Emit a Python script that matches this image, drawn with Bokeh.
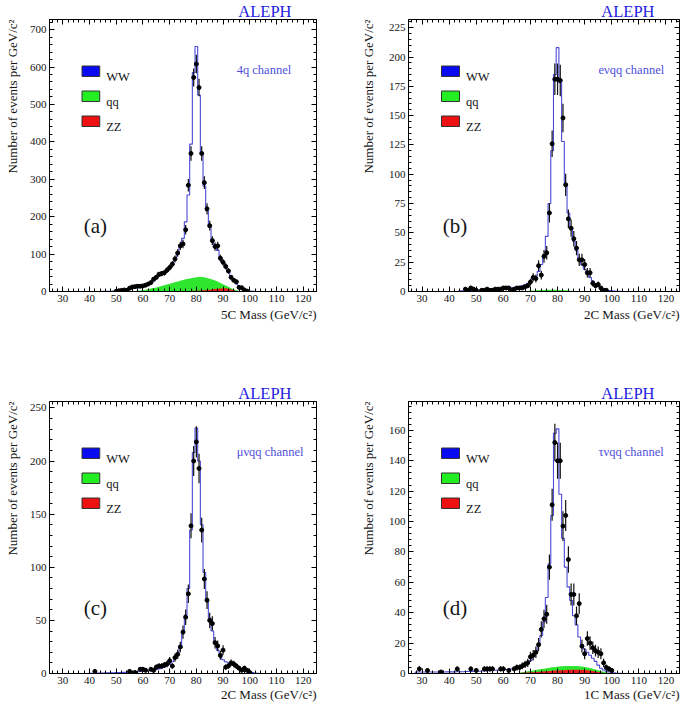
import numpy as np
from bokeh.plotting import figure
from bokeh.layouts import gridplot
from bokeh.models import Range1d, FixedTicker, LinearAxis, Label, Title
from bokeh.embed import file_html
from bokeh.resources import INLINE

SERIF = "Liberation Serif"
X_MIN, X_MAX = 25, 125
FRAME_W, FRAME_H = 271, 272

x_ticks = [30, 40, 50, 60, 70, 80, 90, 100, 110, 120]
x_minor = [m for m in range(26, 125, 2)]

# ---------------- panel (a) 4q channel, bins centred on integer masses ----------------
a_start = 45
a_mc = [0.3, 0.4, 0.5, 0.7, 0.9, 1.2, 1.6, 2.2, 3, 4,
        5.5, 7.5, 9.5, 11, 12.5, 14, 16, 19, 23, 28,
        34, 41, 46, 51, 56, 63, 72, 85, 102, 125,
        142, 186, 258, 394, 585, 655, 525, 372, 282, 216,
        172, 138, 124, 110, 92, 76, 64, 52, 40, 30,
        20, 12, 7, 4, 2, 1, 0.5, 0.3, 0.2, 0.1]
a_data = [0, 0, 0, 0, 0, 1, 2, 3, 4, 3,
          9, 12, 13, 14, 14, 15, 17, 20, 24, 33,
          38, 46, 48, 50, 57, 64, 73, 87, 103, 122,
          127, 165, 284, 369, 572, 608, 545, 369, 291, 221,
          176, 136, 120, 122, 89, 78, 67, 55, 38, 30,
          26, 11, 10, 4, 1, 0, 0, 0, 0, 0]
a_qq = [0, 0, 0, 0, 0, 0, 0, 0, 0, 0,
        0.5, 1, 1.5, 2, 3, 4, 5, 6.5, 8, 9.5,
        11, 13, 15, 17, 19, 21, 23, 25, 27, 29,
        31, 32.5, 34, 35.5, 37, 38, 38.5, 38.5, 38, 36,
        34, 32, 29.5, 26.5, 23, 19.5, 16, 12.5, 9, 6,
        3.5, 1.5, 0.5, 0, 0, 0, 0, 0, 0, 0]
a_zz = [0, 0, 0, 0, 0, 0, 0, 0, 0, 0,
        0.3, 0.4, 0.5, 0.5, 0.6, 0.6, 0.7, 0.7, 0.8, 0.8,
        0.9, 0.9, 1, 1, 1, 1.1, 1.1, 1.2, 1.2, 1.3,
        1.3, 1.4, 1.5, 1.6, 1.8, 2, 2.3, 2.7, 3.2, 3.8,
        4.6, 5.5, 6.5, 7.5, 8.3, 8.8, 8.6, 7.5, 5.5, 3.3,
        1.5, 0.5, 0.2, 0, 0, 0, 0, 0, 0, 0]

# ---------------- panel (b) e nu qq channel ----------------
b_start = 44
b_mc = [0.5, 0.6, 0.7, 0.8, 0.9, 1, 1.1, 1.2, 1.3, 1.4,
        1.5, 1.6, 1.7, 1.8, 2, 2.2, 2.4, 2.6, 2.8, 3.1,
        3.4, 3.8, 4.3, 5, 5.8, 7, 8.5, 10.5, 13, 17,
        23, 31, 47, 75, 120, 185, 208, 178, 128, 92,
        67, 53, 43, 35, 28, 23, 19, 15, 12, 9,
        6.5, 4.5, 3, 2, 1.3, 0.8, 0.5, 0.3, 0.2, 0.1]
b_data = [0, 0, 2, 1, 3, 2, 1, 0, 1, 1,
          2, 1, 1, 2, 2, 2, 3, 3, 3, 1,
          2, 3, 3, 3, 4, 5, 8, 12, 11, 22,
          14, 30, 33, 67, 126, 181, 181, 180, 148, 91,
          62, 54, 45, 37, 27, 27, 23, 16, 16, 7,
          5, 6, 3, 1, 1, 0, 0, 0, 0, 0]
b_qq = [0, 0, 0, 0, 0, 0, 0, 0, 0, 0,
        0, 0, 0, 0, 0, 0, 0, 0, 0, 0,
        0, 0, 0, 0, 0.2, 0.4, 0.6, 0.8, 1, 1.1,
        1.2, 1.3, 1.4, 1.4, 1.4, 1.4, 1.3, 1.2, 1.1, 1,
        0.8, 0.6, 0.4, 0.2, 0, 0, 0, 0, 0, 0,
        0, 0, 0, 0, 0, 0, 0, 0, 0, 0]
b_zz = [0, 0, 0, 0, 0, 0, 0, 0, 0, 0,
        0, 0, 0, 0, 0, 0, 0, 0, 0, 0,
        0, 0, 0, 0, 0, 0, 0.2, 0.2, 0.2, 0.2,
        0.3, 0.3, 0.3, 0.3, 0.3, 0.3, 0.3, 0.3, 0.3, 0.3,
        0.3, 0.3, 0.3, 0.3, 0.3, 0.3, 0.3, 0.3, 0.3, 0.3,
        0.2, 0.2, 0.1, 0, 0, 0, 0, 0, 0, 0]

# ---------------- panel (c) mu nu qq channel ----------------
c_start = 40
c_mc = [0.3, 0.3, 0.35, 0.4, 0.45, 0.5, 0.55, 0.6, 0.65, 0.7,
        0.8, 0.9, 1, 1.1, 1.2, 1.3, 1.4, 1.5, 1.7, 1.9,
        2.1, 2.3, 2.6, 2.9, 3.3, 3.8, 4.4, 5.1, 6, 7.2,
        8.8, 11, 14, 19, 26, 38, 55, 80, 135, 208,
        231, 200, 140, 95, 70, 52, 40, 30, 22, 17,
        13, 11, 10, 9, 8, 6, 4.5, 3.3, 2.4, 1.7,
        1.2, 0.8, 0.5, 0.3]
c_data = [0, 0, 2, 0, 0, 0, 0, 0, 0, 0,
          0, 0, 0, 0, 0, 2, 0, 1, 0, 4,
          4, 3, 0, 4, 3, 6, 7, 7, 8, 9,
          12, 7, 15, 18, 25, 39, 53, 75, 139, 200,
          218, 193, 135, 89, 69, 50, 47, 29, 26, 17,
          22, 6, 7, 10, 9, 7, 5, 3, 5, 3,
          1, 0, 0, 0]
c_qq = [0, 0, 0, 0, 0, 0, 0, 0, 0, 0,
        0, 0, 0, 0, 0, 0, 0, 0, 0, 0,
        0, 0, 0, 0, 0, 0, 0, 0, 0, 0,
        0, 0, 0, 0, 0.1, 0.2, 0.2, 0.2, 0.2, 0.2,
        0.2, 0.2, 0.2, 0.2, 0.2, 0.2, 0.1, 0, 0, 0,
        0, 0, 0, 0, 0, 0, 0, 0, 0, 0,
        0, 0, 0, 0]
c_zz = [0, 0, 0, 0, 0, 0, 0, 0, 0, 0,
        0, 0, 0, 0, 0, 0, 0, 0, 0, 0,
        0, 0, 0, 0, 0, 0, 0, 0, 0, 0,
        0.3, 0.3, 0.3, 0.4, 0.4, 0.4, 0.4, 0.4, 0.4, 0.4,
        0.4, 0.4, 0.4, 0.4, 0.4, 0.4, 0.4, 0.4, 0.4, 0.4,
        0.4, 0.4, 0.4, 0.4, 0.4, 0.4, 0.4, 0.4, 0.4, 0.4,
        0.4, 0.4, 0.4, 0.4]

# ---------------- panel (d) tau nu qq channel ----------------
d_start = 28
d_mc = [1, 1, 1, 1, 1, 1, 1, 1, 1, 1,
        1, 1.1, 1.1, 1.1, 1.1, 1.2, 1.2, 1.2, 1.3, 1.3,
        1.4, 1.4, 1.5, 1.5, 1.6, 1.7, 1.8, 1.9, 2, 2.1,
        2.2, 2.3, 2.5, 2.6, 2.8, 3, 3.3, 3.7, 4.2, 4.8,
        5.6, 6.8, 8.5, 11, 14, 19, 25, 34, 50, 72,
        104, 158, 161, 118, 89, 70, 57, 48, 38, 32,
        24, 19, 16, 14, 12, 10, 8, 5.5, 3.5, 2.3,
        1.5, 1, 0.6, 0.4, 0.2, 0.1]
d_data = [0, 3, 0, 0, 2, 0, 0, 0, 0, 1,
          0, 0, 0, 0, 0, 3, 0, 0, 0, 0,
          3, 0, 2, 0, 0, 3, 3, 3, 3, 0,
          0, 3, 3, 0, 2, 0, 3, 4, 4, 5,
          6, 7, 11, 12, 14, 19, 29, 36, 39, 70,
          111, 152, 140, 140, 97, 104, 75, 52, 52, 38,
          46, 18, 13, 23, 20, 17, 15, 14, 13, 7,
          4, 3, 2, 0, 0, 0]
d_qq = [0, 0, 0, 0, 0, 0, 0, 0, 0, 0,
        0, 0, 0, 0, 0, 0, 0, 0, 0, 0,
        0, 0, 0, 0, 0, 0, 0, 0, 0, 0,
        0, 0, 0, 0, 0, 0, 0, 0, 0.5, 0.8,
        1.1, 1.4, 1.7, 2, 2.3, 2.6, 2.9, 3.2, 3.5, 3.8,
        4.1, 4.3, 4.5, 4.7, 4.8, 4.9, 5, 5, 5, 4.9,
        4.8, 4.6, 4.3, 4, 3.6, 3.1, 2.6, 2.1, 1.6, 1.1,
        0.7, 0.4, 0.2, 0, 0, 0]
d_zz = [0.3, 0.3, 0.3, 0.3, 0.3, 0.3, 0.3, 0.3, 0.3, 0.3,
        0.3, 0.3, 0.3, 0.3, 0.3, 0.3, 0.3, 0.3, 0.3, 0.3,
        0.3, 0.3, 0.3, 0.3, 0.3, 0.3, 0.3, 0.3, 0.3, 0.3,
        0.3, 0.3, 0.3, 0.3, 0.3, 0.3, 0.3, 0.4, 0.4, 0.5,
        0.6, 0.7, 0.8, 0.9, 1, 1.1, 1.2, 1.4, 1.5, 1.6,
        1.8, 1.9, 2, 2.1, 2.2, 2.3, 2.4, 2.5, 2.5, 2.5,
        2.5, 2.4, 2.3, 2.1, 1.9, 1.6, 1.3, 1, 0.7, 0.4,
        0.2, 0.1, 0, 0, 0, 0]

y_max = {"a": 727, "b": 232, "c": 256, "d": 179}
y_major = {"a": list(range(0, 701, 100)), "b": list(range(0, 226, 25)),
           "c": list(range(0, 251, 50)), "d": list(range(0, 161, 20))}
y_minor_step = {"a": 20, "b": 5, "c": 10, "d": 4}
channels = {"a": "4q channel", "b": "e\u03bdqq channel",
            "c": "\u03bc\u03bdqq channel", "d": "\u03c4\u03bdqq channel"}
x_titles = {"a": "5C Mass (GeV/c\u00b2)", "b": "2C Mass (GeV/c\u00b2)",
            "c": "2C Mass (GeV/c\u00b2)", "d": "1C Mass (GeV/c\u00b2)"}
y_title = "Number of events per GeV/c\u00b2"
legend_names = ["WW", "qq", "ZZ"]

WW_LINE = "#4a4ad8"
QQ_FILL = "#2ee62e"
ZZ_FILL = "#e81a1a"
LEG_COLS = ["#0a0af2", "#22ee22", "#ee1111"]
ALEPH_COL = "#2323e0"
CHAN_COL = "#4f4fdc"
TXT = "#151515"


def make_panel(key, start, mc, data, qq, zz, layout):
    width, height, bl, br, bt, bb, xt_standoff, yt_standoff = layout
    ymax = y_max[key]

    def fx(dx):
        return X_MIN + dx * (X_MAX - X_MIN) / FRAME_W

    def fy(dy):
        return ymax * (1 - dy / FRAME_H)

    p = figure(width=width, height=height, x_range=Range1d(X_MIN, X_MAX),
               y_range=Range1d(0, ymax), output_backend="svg",
               toolbar_location=None, tools="",
               min_border_left=bl, min_border_right=br,
               min_border_top=bt, min_border_bottom=bb)
    p.xgrid.visible = False
    p.ygrid.visible = False
    p.outline_line_color = "black"
    p.outline_line_width = 1
    p.background_fill_color = "white"
    p.border_fill_color = "white"

    yt = FixedTicker(ticks=y_major[key],
                     minor_ticks=list(range(0, int(ymax) + 1, y_minor_step[key])))
    xt = FixedTicker(ticks=x_ticks, minor_ticks=x_minor)
    xa = p.xaxis[0]
    ya = p.yaxis[0]
    xa.ticker = xt
    ya.ticker = yt
    for ax, st in ((xa, 3), (ya, 3)):
        ax.major_tick_in = 5
        ax.major_tick_out = 0
        ax.minor_tick_in = 3
        ax.minor_tick_out = 0
        ax.major_label_standoff = st
        ax.major_label_text_font = SERIF
        ax.major_label_text_font_size = "11px"
        ax.major_label_text_color = TXT
        ax.axis_line_color = "black"
        ax.major_tick_line_color = "black"
        ax.minor_tick_line_color = "black"

    for loc, tk, ticks in (("right", yt, y_major[key]), ("above", xt, x_ticks)):
        ax = LinearAxis(ticker=tk, major_label_text_font_size="0px",
                        major_label_standoff=0,
                        major_label_overrides={t: "" for t in ticks},
                        major_tick_in=5, major_tick_out=0,
                        minor_tick_in=3, minor_tick_out=0,
                        axis_line_color="black")
        p.add_layout(ax, loc)

    # axis titles (right/top aligned as in the original) and experiment tag
    p.add_layout(Title(text=x_titles[key], align="right", offset=0,
                       vertical_align="top", standoff=xt_standoff,
                       text_font=SERIF, text_font_size="13px",
                       text_font_style="normal", text_color=TXT), "below")
    p.add_layout(Title(text=y_title, align="right", offset=0,
                       vertical_align="top", standoff=yt_standoff,
                       text_font=SERIF, text_font_size="13px",
                       text_font_style="normal", text_color=TXT), "left")
    p.add_layout(Title(text="ALEPH", align="right", offset=25, standoff=-3,
                       vertical_align="bottom", text_font=SERIF,
                       text_font_size="16.5px", text_font_style="normal",
                       text_color=ALEPH_COL), "above")

    centers = np.arange(start, start + len(mc), dtype=float)
    edges = np.concatenate([centers - 0.5, [centers[-1] + 0.5]])

    # background components
    p.varea(x=centers, y1=np.zeros(len(qq)), y2=np.array(qq, float),
            fill_color=QQ_FILL, fill_alpha=1.0)
    p.varea(x=centers, y1=np.zeros(len(zz)), y2=np.array(zz, float),
            fill_color=ZZ_FILL, fill_alpha=1.0)

    # total MC histogram outline
    sx = np.concatenate([[edges[0]], edges])
    sy = np.concatenate([[0.0], np.array(mc, float), [0.0]])
    p.step(x=sx, y=sy, mode="after", line_color=WW_LINE, line_width=1.1)

    # data points with statistical error bars
    dv = np.array(data, float)
    keep = dv > 0
    dx_pts = centers[keep]
    dy_pts = dv[keep]
    err = np.sqrt(dy_pts)
    p.segment(x0=dx_pts, y0=dy_pts - err, x1=dx_pts, y1=dy_pts + err,
              line_color="#111111", line_width=1.2)
    p.scatter(x=dx_pts, y=dy_pts, size=4, marker="circle",
              fill_color="black", line_color="black")

    # legend boxes
    for i, (name, col) in enumerate(zip(legend_names, LEG_COLS)):
        top_dy = 46.5 + 25 * i
        p.quad(left=[fx(33)], right=[fx(51)], top=[fy(top_dy)],
               bottom=[fy(top_dy + 10.5)], fill_color=col,
               line_color="#333333", line_width=1)
        p.add_layout(Label(x=fx(57.5), y=fy(top_dy + 10.5), text=name,
                           text_font=SERIF, text_font_size="12.5px",
                           text_color=TXT, text_baseline="alphabetic"))

    p.add_layout(Label(x=fx(190), y=fy(50), text=channels[key],
                       text_font=SERIF, text_font_size="12.5px",
                       text_color=CHAN_COL, text_baseline="alphabetic"))
    p.add_layout(Label(x=fx(46.5), y=fy(206), text="(" + key + ")",
                       text_font=SERIF, text_font_size="21px",
                       text_color=TXT, text_align="center",
                       text_baseline="middle"))
    return p


# width, height, border l/r/t/b, x-title standoff, y-title standoff
lay_a = (346, 370, 45, 30, 19, 79, 4.4, 9)
lay_b = (343, 370, 62, 10, 19, 79, 4.4, 14.8)
lay_c = (346, 336, 45, 30, 31, 33, 1.4, 9)
lay_d = (343, 336, 62, 10, 31, 33, 1.4, 14.8)

pa = make_panel("a", a_start, a_mc, a_data, a_qq, a_zz, lay_a)
pb = make_panel("b", b_start, b_mc, b_data, b_qq, b_zz, lay_b)
pc = make_panel("c", c_start, c_mc, c_data, c_qq, c_zz, lay_c)
pd = make_panel("d", d_start, d_mc, d_data, d_qq, d_zz, lay_d)

grid = gridplot([[pa, pb], [pc, pd]], toolbar_location=None)

open("out.html", "w").write(file_html(grid, INLINE))
